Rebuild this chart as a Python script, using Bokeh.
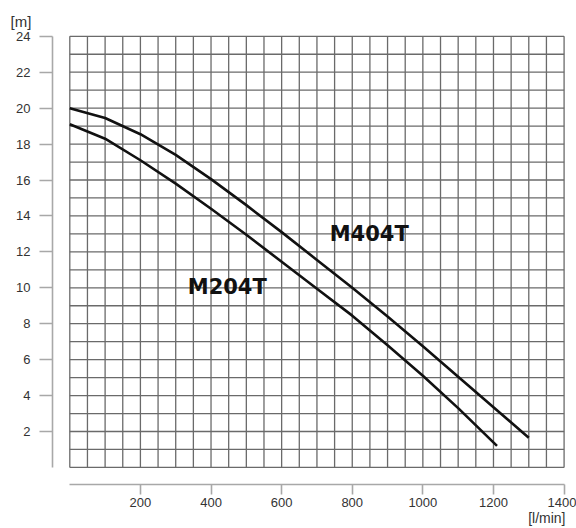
import numpy as np
from bokeh.plotting import figure
from bokeh.models import FixedTicker, Range1d, ColumnDataSource, Title
from bokeh.core.properties import value
from bokeh.embed import file_html
from bokeh.resources import INLINE

# ---- data ----
m404t_flow = [0, 100, 200, 300, 400, 500, 600, 700, 800, 900, 1000, 1100, 1200, 1300]
m404t_head = [20.0, 19.45, 18.55, 17.4, 16.05, 14.6, 13.1, 11.55, 10.0, 8.4, 6.75, 5.05, 3.35, 1.65]

m204t_flow = [0, 100, 200, 300, 400, 500, 600, 700, 800, 900, 1000, 1100, 1210]
m204t_head = [19.1, 18.3, 17.1, 15.8, 14.4, 12.95, 11.45, 9.95, 8.45, 6.8, 5.1, 3.3, 1.2]

series_names = ["M404T", "M204T"]
x_ticks = [200, 400, 600, 800, 1000, 1200, 1400]
y_ticks = [2, 4, 6, 8, 10, 12, 14, 16, 18, 20, 22, 24]
x_unit = "[l/min]"
y_unit = "[m]"

x_max, y_max = 1400, 24
grid_dx, grid_dy = 50, 1

p = figure(
    width=576, height=528,
    min_border_left=52, min_border_right=11, min_border_top=34, min_border_bottom=44,
    x_range=Range1d(-49, 1404), y_range=Range1d(-0.95, 24.1),
    output_backend="svg", toolbar_location=None,
)
p.outline_line_color = None
p.background_fill_color = "white"
p.border_fill_color = "white"
p.xgrid.grid_line_color = None
p.ygrid.grid_line_color = None

# y unit as the (left aligned) title
p.title.text = y_unit
p.title.align = "left"
p.title.offset = -42
p.title.vertical_align = "top"
p.title.standoff = 6
p.title.text_font = "Liberation Sans"
p.title.text_font_style = "normal"
p.title.text_font_size = "15px"
p.title.text_color = "#333333"

# x unit below the axis, right aligned
p.add_layout(Title(text=x_unit, align="right", vertical_align="top", standoff=0,
                   text_font="Liberation Sans", text_font_style="normal",
                   text_font_size="14px", text_color="#333333"), "below")

# grid of 50 l/min x 1 m cells over the data area
gx = np.arange(0, x_max + 1, grid_dx)
gy = np.arange(0, y_max + 1, grid_dy)
p.segment(x0=gx, y0=np.zeros_like(gx), x1=gx, y1=np.full(gx.shape, y_max),
          line_color="#6a6a6a", line_width=1.3)
p.segment(x0=np.zeros_like(gy), y0=gy, x1=np.full(gy.shape, x_max), y1=gy,
          line_color="#6a6a6a", line_width=1.3)

# axes (detached from the grid)
p.xaxis.ticker = FixedTicker(ticks=x_ticks)
p.yaxis.ticker = FixedTicker(ticks=y_ticks)
p.xaxis.bounds = (0, x_max)
p.yaxis.bounds = (0, y_max)
for ax in (p.xaxis, p.yaxis):
    ax.axis_line_color = "#a8a8a8"
    ax.axis_line_width = 1.6
    ax.major_tick_line_color = "#a8a8a8"
    ax.major_tick_line_width = 1.6
    ax.minor_tick_line_color = None
    ax.major_tick_in = 0
    ax.major_label_text_font = "Liberation Sans"
    ax.major_label_text_font_size = "13px"
    ax.major_label_text_color = "#333333"
p.xaxis.major_tick_out = 10
p.xaxis.major_label_standoff = 3
p.yaxis.major_tick_out = 13
p.yaxis.major_label_standoff = 9

# curves
p.line(m404t_flow, m404t_head, line_color="#111111", line_width=2.6, line_join="round")
p.line(m204t_flow, m204t_head, line_color="#111111", line_width=2.6, line_join="round")

# series labels
lab_src = ColumnDataSource(dict(x=[848, 446], y=[12.97, 10.02], t=series_names))
p.text(x="x", y="y", text="t", source=lab_src, text_align="center", text_baseline="middle",
       text_font=value("DejaVu Sans"), text_font_style="bold", text_font_size="21px",
       text_color="#111111")

open("out.html", "w").write(file_html(p, INLINE))
